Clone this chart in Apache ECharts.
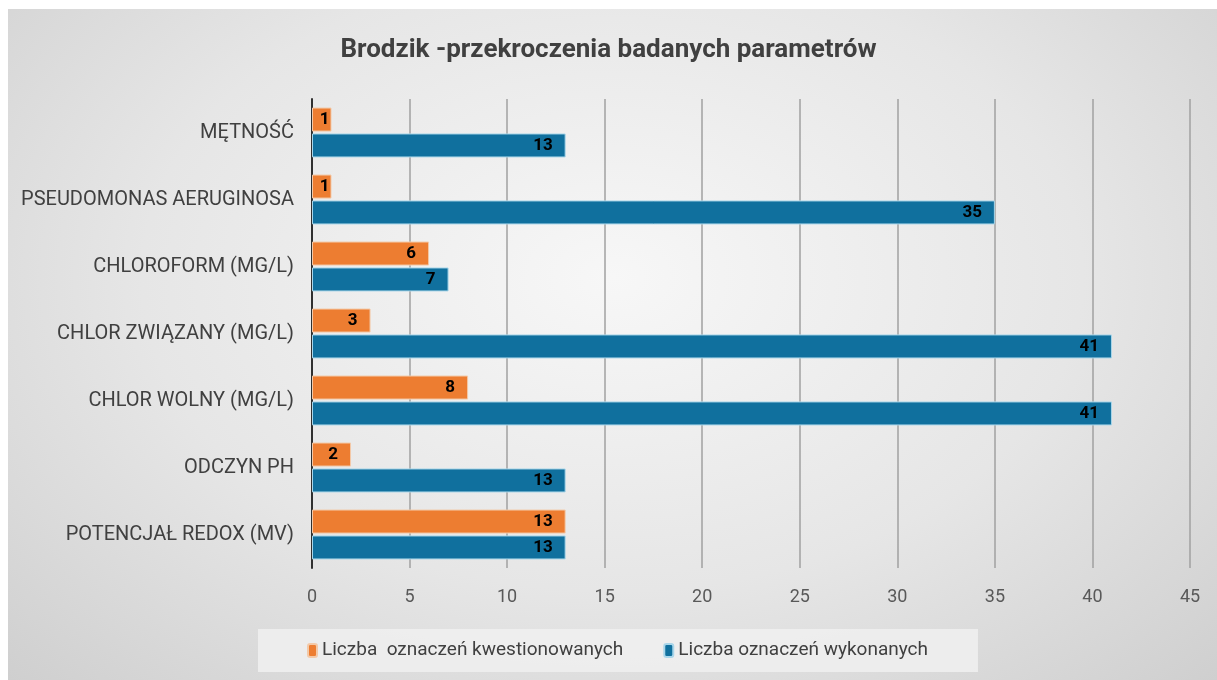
<!DOCTYPE html>
<html>
<head>
<meta charset="utf-8">
<script src="https://cdn.jsdelivr.net/npm/echarts@6/dist/echarts.min.js"></script>
<style>
  html, body { margin: 0; padding: 0; background: #fff; }
  #wrap {
    position: absolute; left: 8px; top: 9px; width: 1209px; height: 671px;
    background: radial-gradient(ellipse at 50% 40%, #f7f7f7 0%, #e6e6e6 55%, #cfcfcf 100%);
  }
  #chart { width: 1217px; height: 680px; position: absolute; left: -8px; top: -9px; }
</style>
</head>
<body>
<div id="wrap"><div id="chart"></div></div>
<script>
// categories listed bottom to top
var categories = [
  "POTENCJAŁ REDOX (MV)",
  "ODCZYN PH",
  "CHLOR WOLNY (MG/L)",
  "CHLOR ZWIĄZANY (MG/L)",
  "CHLOROFORM (MG/L)",
  "PSEUDOMONAS AERUGINOSA",
  "MĘTNOŚĆ"
];
var kwestionowane = [13, 2, 8, 3, 6, 1, 1];
var wykonane = [13, 13, 41, 41, 7, 35, 13];
var xTicks = [0, 45, 5];

// very short bars get their label pulled to the bar end
function withLabels(values) {
  return values.map(function (v) {
    return { value: v, label: { distance: v <= 1 ? 2 : 13 } };
  });
}

var myChart = echarts.init(document.getElementById("chart"));
var labelStyle = {
  show: true,
  position: "insideRight",
  color: "#000",
  fontWeight: "bold",
  fontSize: 17,
  fontFamily: "Roboto, sans-serif"
};
var option = {
  backgroundColor: "transparent",
  title: {
    text: "Brodzik -przekroczenia badanych parametrów",
    left: "center",
    top: 32,
    textStyle: {
      fontSize: 26,
      fontWeight: "bold",
      color: "#404040",
      fontFamily: "Roboto, sans-serif"
    }
  },
  legend: {
    data: ["Liczba  oznaczeń kwestionowanych", "Liczba oznaczeń wykonanych"],
    bottom: 8,
    left: 258,
    itemWidth: 9,
    itemHeight: 13,
    itemGap: 40,
    padding: [12, 50, 12, 49],
    backgroundColor: "rgba(240,240,240,0.85)",
    textStyle: {
      fontSize: 19,
      color: "#404040",
      fontFamily: "Roboto, sans-serif"
    }
  },
  grid: { left: 312, right: 27, top: 99, bottom: 112 },
  xAxis: {
    type: "value",
    min: xTicks[0],
    max: xTicks[1],
    interval: xTicks[2],
    axisLine: { show: false },
    axisTick: { show: false },
    splitLine: { lineStyle: { color: "#a0a0a0", width: 1.5 } },
    axisLabel: {
      fontSize: 18,
      color: "#595959",
      margin: 20,
      fontFamily: "Roboto, sans-serif"
    }
  },
  yAxis: {
    type: "category",
    data: categories,
    axisLine: { lineStyle: { color: "#303030", width: 2 } },
    axisTick: { show: false },
    axisLabel: {
      fontSize: 20,
      color: "#404040",
      margin: 18,
      fontFamily: "Roboto, sans-serif"
    }
  },
  series: [
    {
      name: "Liczba  oznaczeń kwestionowanych",
      type: "bar",
      data: withLabels(kwestionowane),
      barWidth: 24,
      barGap: "8%",
      itemStyle: { color: "#ED7D31", borderColor: "#f3c9a8", borderWidth: 1 },
      label: labelStyle
    },
    {
      name: "Liczba oznaczeń wykonanych",
      type: "bar",
      data: withLabels(wykonane),
      barWidth: 24,
      itemStyle: { color: "#10709E", borderColor: "#a9d6ea", borderWidth: 1 },
      label: labelStyle
    }
  ]
};
myChart.setOption(option);
</script>
</body>
</html>
